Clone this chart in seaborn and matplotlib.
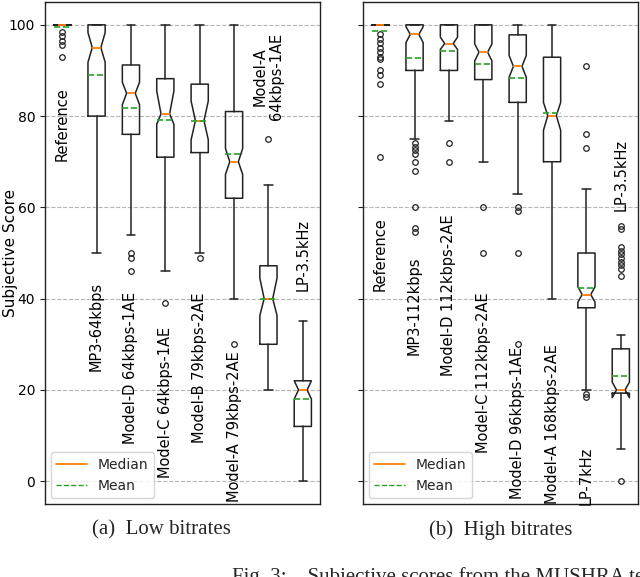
import numpy as np
import matplotlib
matplotlib.use("Agg")
from matplotlib import pyplot as plt
from matplotlib.lines import Line2D
import seaborn as sns

# ---- data (box statistics per condition) ----
low_labels = ["Reference", "MP3-64kbps", "Model-D 64kbps-1AE", "Model-C 64kbps-1AE",
              "Model-B 79kbps-2AE", "Model-A 79kbps-2AE", "Model-A\n64kbps-1AE", "LP-3.5kHz"]
low_med = [100, 95, 85, 80.5, 79, 70, 40, 20]
low_q1 = [100, 80, 76, 71, 72, 62, 30, 12]
low_q3 = [100, 100, 91.2, 88.2, 87, 81, 47.2, 22]
low_whislo = [100, 50, 54, 46, 50, 40, 20, 0]
low_whishi = [100, 100, 100, 100, 100, 100, 65, 35]
low_mean = [99.6, 88.9, 81.8, 79.1, 79, 71.6, 40, 18]
low_cilo = [100, 91.8, 82.5, 78.2, 74.8, 67.2, 36.3, 18]
low_cihi = [100, 98.3, 87.4, 85.5, 83.3, 72.9, 44.5, 22]
low_fliers = [[98.5, 97.5, 96.5, 95.5, 93], [], [50, 49, 46], [39], [49], [30], [75], []]
low_text_top = [86.4, 43.6, 41.4, 33.9, 41.4, 28.5, 98.3, 57.5]

high_labels = ["Reference", "MP3-112kbps", "Model-D 112kbps-2AE", "Model-C 112kbps-2AE",
               "Model-D 96kbps-1AE", "Model-A 168kbps-2AE", "LP-7kHz", "LP-3.5kHz"]
high_med = [100, 97.9, 95.9, 94, 90.9, 80.1, 40.9, 20]
high_q1 = [100, 90, 90, 88, 83, 70, 38, 19.3]
high_q3 = [100, 100, 100, 100, 97.8, 92.9, 50, 29]
high_whislo = [100, 75, 79, 70, 63, 40, 20, 7]
high_whishi = [100, 100, 100, 100, 100, 100, 64, 32]
high_mean = [98.7, 92.7, 94.2, 91.4, 88.3, 80.7, 42.4, 23]
high_cilo = [100, 96.1, 94.6, 92.1, 88.5, 76.9, 39.2, 18.3]
high_cihi = [100, 99.6, 97.3, 95.8, 93.3, 83, 42.6, 21.7]
high_fliers = [[98, 97, 96, 95, 94, 93, 92.5, 90, 89, 87, 71],
               [74.2, 73.3, 72.5, 71.6, 70, 68, 60, 55.5, 54.5],
               [74, 70],
               [60, 50],
               [60, 59.3, 50, 30],
               [],
               [91, 76, 73, 19.2, 18.4],
               [56, 55.2, 51.3, 50.5, 49.7, 48.9, 48.1, 47.3, 46.5, 45, 0]]
high_text_top = [57.8, 49.2, 58.5, 41.4, 29.4, 30.1, 7.5, 74.9]

sns.set_style("ticks")
plt.rcParams['font.family'] = ['DejaVu Sans']

fig = plt.figure(figsize=(6.4, 5.77), dpi=100)
ax1 = fig.add_axes([45 / 640, 73 / 577, 275 / 640, 502 / 577])
ax2 = fig.add_axes([363 / 640, 73 / 577, 275 / 640, 502 / 577], sharey=ax1)


def draw_panel(ax, labels, med, q1, q3, wlo, whi, mean, cilo, cihi, fliers, tops):
    stats = []
    for i in range(len(labels)):
        stats.append(dict(med=med[i], q1=q1[i], q3=q3[i], whislo=wlo[i], whishi=whi[i],
                          mean=mean[i], cilo=cilo[i], cihi=cihi[i],
                          fliers=np.array(fliers[i], dtype=float), label=labels[i]))
    pos = np.arange(1, len(labels) + 1)
    ax.bxp(stats, positions=pos, widths=0.5, shownotches=True, showmeans=True, meanline=True,
           boxprops=dict(color='#222222', lw=1.1),
           whiskerprops=dict(color='#222222', lw=1.1),
           capprops=dict(color='#222222', lw=1.1),
           medianprops=dict(color='#ff7f0e', lw=1.3),
           meanprops=dict(color='#2ca02c', ls='--', lw=1.2),
           flierprops=dict(marker='o', markersize=4, markerfacecolor='none',
                           markeredgecolor='#222222', markeredgewidth=0.9))
    for p, lab, t in zip(pos, labels, tops):
        ax.text(p, t, lab, rotation=90, ha='center', va='top', fontsize=10.5,
                color='black', linespacing=1.15)
    ax.set_xlim(0.5, len(labels) + 0.5)
    ax.set_xticks([])
    ax.set_ylim(-5, 105)
    ax.set_yticks([0, 20, 40, 60, 80, 100])
    ax.yaxis.grid(True, linestyle='--', color='#b5b5b5', lw=0.8)
    ax.set_axisbelow(True)
    for s in ax.spines.values():
        s.set_color('#222222')
        s.set_linewidth(1.0)
    ax.tick_params(axis='y', labelsize=10, colors='#222222', labelcolor='black')
    handles = [Line2D([], [], color='#ff7f0e', lw=1.3, label='Median'),
               Line2D([], [], color='#2ca02c', lw=1.0, ls='--', label='Mean')]
    ax.legend(handles=handles, loc='lower left', fontsize=10, frameon=True,
              borderaxespad=0.4, handlelength=2.2)


draw_panel(ax1, low_labels, low_med, low_q1, low_q3, low_whislo, low_whishi,
           low_mean, low_cilo, low_cihi, low_fliers, low_text_top)
draw_panel(ax2, high_labels, high_med, high_q1, high_q3, high_whislo, high_whishi,
           high_mean, high_cilo, high_cihi, high_fliers, high_text_top)
ax2.tick_params(axis='y', labelleft=False)
ax1.set_ylabel('Subjective Score', fontsize=11, color='black')
ax1.yaxis.set_label_coords(-27 / 275, 0.5)

cap = ['Liberation Serif', 'DejaVu Serif']
fig.text(161 / 640, 1 - 530 / 577, '(a)  Low bitrates', ha='center', va='center',
         fontsize=15, family=cap)
fig.text(501 / 640, 1 - 530 / 577, '(b)  High bitrates', ha='center', va='center',
         fontsize=15, family=cap)
fig.text(232 / 640, 1 - 567 / 577, 'Fig. 3:    Subjective scores from the MUSHRA test.',
         ha='left', va='top', fontsize=15, family=cap)

fig.savefig('out.png', dpi=100)
